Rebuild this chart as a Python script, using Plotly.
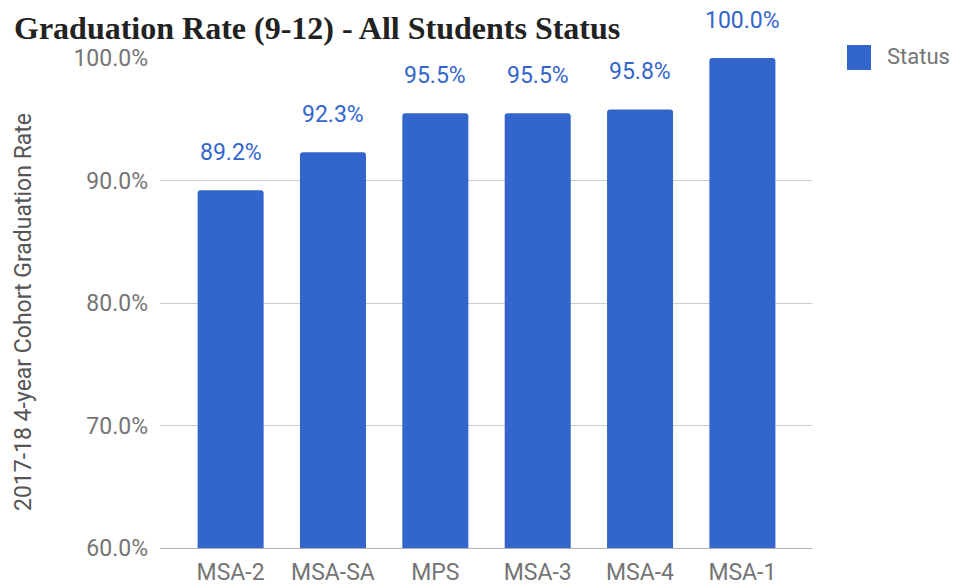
import plotly.graph_objects as go

categories = ["MSA-2", "MSA-SA", "MPS", "MSA-3", "MSA-4", "MSA-1"]
values = [89.2, 92.3, 95.5, 95.5, 95.8, 100.0]
tick_vals = [60, 70, 80, 90, 100]
tick_text = ["60.0%", "70.0%", "80.0%", "90.0%", "100.0%"]
series_name = "Status"

BLUE = "#3366cc"
GREY = "#757575"
FONT = "Roboto"

# page has an 8px body margin; figure sized to reach the window's right/bottom edges
OFF = 8
W, H = 961 - OFF, 588 - OFF
PL, PR, PT, PB = 160 - OFF, 812 - OFF, 58 - OFF, 548 - OFF  # plot area in figure px
PW, PH = PR - PL, PB - PT


def px(xpage):
    return (xpage - OFF - PL) / PW


def py(ypage):
    return (PB - (ypage - OFF)) / PH


fig = go.Figure()
fig.add_trace(go.Bar(
    x=categories, y=values, name=series_name,
    marker=dict(color=BLUE, line=dict(width=0), cornerradius=3),
    width=0.645, showlegend=False,
))

# value labels above bars
for c, v in zip(categories, values):
    fig.add_annotation(
        x=c, y=v, xref="x", yref="y", text=f"{v:.1f}%",
        showarrow=False, yanchor="bottom", yshift=22,
        font=dict(family=FONT, size=23, color=BLUE),
    )

# title
fig.add_annotation(
    xref="paper", yref="paper", x=px(12), y=py(OFF), xanchor="left", yanchor="top",
    text="<b>Graduation Rate (9-12) - All Students Status</b>", showarrow=False,
    font=dict(family="Liberation Serif", size=32, color="#222222"),
)

# y-axis title
fig.add_annotation(
    xref="paper", yref="paper", x=px(23), y=py(312), xanchor="center", yanchor="middle",
    text="2017-18 4-year Cohort Graduation Rate", textangle=-90, showarrow=False,
    font=dict(family=FONT, size=23, color="#555555"),
)

# legend
fig.add_shape(type="rect", xref="paper", yref="paper",
              x0=px(847), x1=px(871), y0=py(70), y1=py(45),
              fillcolor=BLUE, line=dict(width=0))
fig.add_annotation(xref="paper", yref="paper", x=px(885), y=py(57),
                   xanchor="left", yanchor="middle", text=series_name, showarrow=False,
                   font=dict(family=FONT, size=22, color=GREY))

fig.update_layout(
    width=W, height=H,
    margin=dict(l=PL, r=W - PR, t=PT, b=H - PB, pad=0, autoexpand=False),
    paper_bgcolor="white", plot_bgcolor="white",
    showlegend=False,
    xaxis=dict(range=[-0.69, 5.68], showgrid=False, showline=True, linecolor="#b5b5b5", linewidth=1,
               tickfont=dict(family=FONT, size=23, color=GREY), ticks="", ticklabelstandoff=3,
               fixedrange=True, automargin=False),
    yaxis=dict(range=[60, 100], tickvals=tick_vals, ticktext=tick_text, showgrid=True,
               gridcolor="#cccccc", gridwidth=1, zeroline=False, showline=False,
               tickfont=dict(family=FONT, size=23, color=GREY), ticks="", ticklabelstandoff=11,
               fixedrange=True, automargin=False),
)

fig.write_html("out.html")
